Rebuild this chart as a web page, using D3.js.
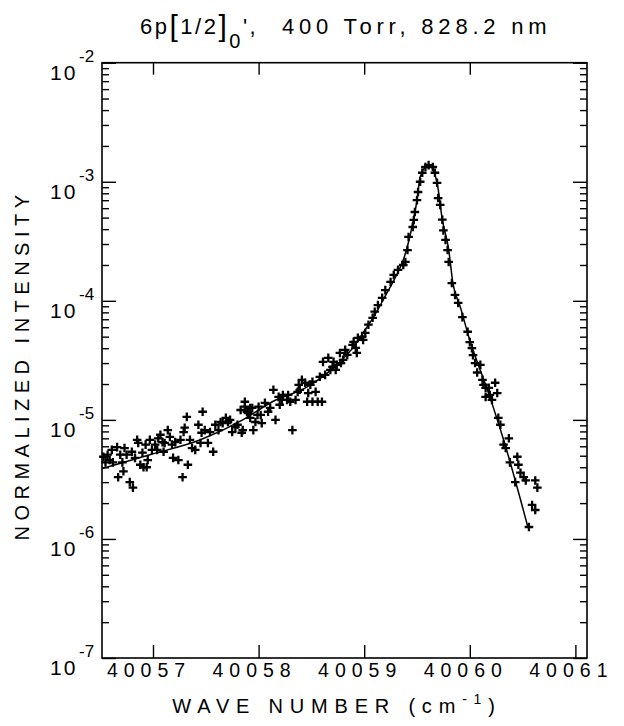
<!DOCTYPE html>
<html>
<head>
<meta charset="utf-8">
<script src="https://cdn.jsdelivr.net/npm/d3@7"></script>
<style>
  body { margin: 0; background: #fff; }
  text { font-family: "Liberation Sans", Arial, sans-serif; fill: #000; }
</style>
</head>
<body>
<svg id="chart" width="624" height="726"></svg>
<script>
'use strict';

// measured points (crosses)
const pointWave = [
  40056.53, 40056.57, 40056.59, 40056.62, 40056.66, 40056.67, 40056.71, 40056.72, 40056.75, 40056.78,
  40056.80, 40056.81, 40056.85, 40056.86, 40056.88, 40056.90, 40056.91, 40056.94, 40056.95, 40056.99,
  40057.02, 40057.04, 40057.07, 40057.09, 40057.11, 40057.14, 40057.16, 40057.19, 40057.21, 40057.24,
  40057.28, 40057.29, 40057.30, 40057.32, 40057.33, 40057.37, 40057.40, 40057.45, 40057.46, 40057.47,
  40057.49, 40057.52, 40057.57, 40057.59, 40057.64, 40057.66, 40057.71, 40057.75, 40057.78, 40057.83,
  40057.84, 40057.87, 40057.90, 40057.94, 40057.95, 40057.99,
  40056.55, 40056.61, 40056.69, 40056.73, 40056.83, 40056.93, 40056.97, 40057.05, 40057.10, 40057.18,
  40057.26, 40057.35, 40057.43, 40057.54, 40057.62, 40057.69, 40057.73, 40057.80, 40057.92, 40058.02,
  40058.20, 40058.28, 40058.38, 40058.49, 40058.71, 40058.82,
  40057.85, 40057.87, 40057.89, 40057.92, 40057.97, 40058.00, 40058.03, 40058.06, 40058.09, 40058.11,
  40058.14, 40058.16, 40058.19, 40058.22, 40058.23, 40058.27, 40058.30, 40058.32, 40058.35, 40058.37,
  40058.39, 40058.41, 40058.44, 40058.46, 40058.47, 40058.51, 40058.51, 40058.54, 40058.56, 40058.58,
  40058.60, 40058.61, 40058.63, 40058.66, 40058.68, 40058.70, 40058.73, 40058.74, 40058.77, 40058.78,
  40058.80, 40058.84, 40058.89, 40058.90, 40058.92, 40058.93, 40058.94, 40058.98, 40058.99, 40059.01,
  40059.04, 40059.08, 40059.10, 40059.13, 40059.17, 40059.20, 40059.25, 40059.28, 40059.32, 40059.37,
  40059.39, 40059.41, 40059.42, 40059.46, 40059.47, 40059.48, 40059.50, 40059.51, 40059.53, 40059.55,
  40059.58, 40059.61, 40059.65, 40059.67,
  40059.69, 40059.70, 40059.72, 40059.74, 40059.75, 40059.77, 40059.79, 40059.80, 40059.83, 40059.86,
  40059.89, 40059.93, 40059.98,
  40060.00, 40060.02, 40060.03, 40060.05, 40060.07, 40060.10, 40060.12, 40060.13, 40060.15, 40060.18,
  40060.24, 40060.26, 40060.15, 40060.19, 40060.21, 40060.27, 40060.29, 40060.37, 40060.32, 40060.34,
  40060.45, 40060.38, 40060.46, 40060.48, 40060.51, 40060.53, 40060.43, 40060.62, 40060.64, 40060.59,
  40060.62, 40060.56
];
const pointIntensity = [
  4.9e-6, 5.1e-6, 4.6e-6, 4.4e-6, 5.9e-6, 3.3e-6, 4.4e-6, 3.7e-6, 5.1e-6, 3.0e-6,
  5.4e-6, 2.7e-6, 6.8e-6, 6.4e-6, 4.2e-6, 5.3e-6, 4.0e-6, 4.0e-6, 4.6e-6, 5.6e-6,
  6.2e-6, 5.6e-6, 7.5e-6, 6.5e-6, 6.4e-6, 8.2e-6, 7.2e-6, 4.8e-6, 6.5e-6, 4.6e-6,
  3.3e-6, 7.9e-6, 8.6e-6, 1.06e-5, 4.2e-6, 5.8e-6, 5.6e-6, 6.4e-6, 7.8e-6, 1.17e-5,
  8.2e-6, 6.4e-6, 5.4e-6, 9.1e-6, 9.6e-6, 9.4e-6, 9.6e-6, 7.9e-6, 8.7e-6, 1.21e-5,
  7.8e-6, 1.29e-5, 1.14e-5, 1.26e-5, 8.2e-6, 1.10e-5,
  4.4e-6, 5.6e-6, 5.1e-6, 5.8e-6, 4.8e-6, 6.2e-6, 6.8e-6, 7.0e-6, 5.4e-6, 6.2e-6,
  6.8e-6, 6.8e-6, 9.1e-6, 7.9e-6, 8.2e-6, 1.04e-5, 1.0e-5, 9.1e-6, 1.04e-5, 1.10e-5,
  1.34e-5, 1.62e-5, 1.97e-5, 1.97e-5, 3.07e-5, 3.87e-5,
  8.2e-6, 1.42e-5, 1.17e-5, 1.26e-5, 9.6e-6, 1.29e-5, 9.4e-6, 1.39e-5, 1.17e-5, 1.26e-5,
  1.79e-5, 1.0e-5, 1.56e-5, 1.47e-5, 1.62e-5, 1.47e-5, 1.42e-5, 8.2e-6, 1.47e-5, 1.72e-5,
  1.79e-5, 2.17e-5, 2.05e-5, 1.42e-5, 1.68e-5, 2.09e-5, 1.42e-5, 1.72e-5, 1.42e-5, 2.3e-5,
  1.42e-5, 3.07e-5, 2.39e-5, 3.32e-5, 2.63e-5, 2.79e-5, 2.63e-5, 2.9e-5, 3.65e-5, 3.0e-5,
  3.19e-5, 3.51e-5, 4.26e-5, 4.52e-5, 4.02e-5, 3.65e-5, 4.88e-5, 4.98e-5, 4.7e-5, 5.37e-5,
  6.3e-5, 7.2e-5, 8.1e-5, 9.2e-5, 1.06e-4, 1.23e-4, 1.44e-4, 1.65e-4, 1.82e-4, 2.0e-4,
  2.12e-4, 2.67e-4, 3.44e-4, 4.17e-4, 4.78e-4, 5.57e-4, 7.0e-4, 8.2e-4, 1.0e-3, 1.19e-3,
  1.33e-3, 1.38e-3, 1.33e-3, 1.19e-3,
  9.8e-4, 7.3e-4, 6.4e-4, 4.8e-4, 3.9e-4, 3.25e-4, 2.67e-4, 2.12e-4, 1.41e-4, 1.12e-4,
  9.6e-5, 7.3e-5, 5.5e-5,
  4.5e-5, 4.0e-5, 3.5e-5, 3.0e-5, 2.5e-5, 2.9e-5, 2.17e-5, 1.97e-5, 1.86e-5, 1.86e-5,
  2.05e-5, 1.68e-5, 1.56e-5, 1.62e-5, 1.47e-5, 1.04e-5, 9.1e-6, 7.0e-6, 6.2e-6, 5.8e-6,
  4.9e-6, 4.4e-6, 4.2e-6, 3.6e-6, 3.3e-6, 3.1e-6, 3.0e-6, 3.1e-6, 2.7e-6, 1.93e-6,
  1.75e-6, 1.26e-6
];

// fitted line shape
const fitWave = [
  40056.52, 40056.97, 40057.45, 40057.85, 40058.13, 40058.46, 40058.77, 40058.90, 40058.99, 40059.10,
  40059.20, 40059.30, 40059.37, 40059.44, 40059.50, 40059.53, 40059.61, 40059.69, 40059.74, 40059.80,
  40059.84, 40059.91, 40059.99, 40060.19, 40060.32, 40060.55
];
const fitIntensity = [
  3.9e-6, 5.1e-6, 6.8e-6, 1.0e-5, 1.42e-5, 1.89e-5, 3.07e-5, 4.1e-5, 5.4e-5, 7.6e-5,
  1.1e-4, 1.6e-4, 2.2e-4, 3.7e-4, 7.0e-4, 1.1e-3, 1.38e-3, 9.8e-4, 4.8e-4, 2.7e-4,
  1.41e-4, 8.9e-5, 5.0e-5, 1.56e-5, 6.8e-6, 1.26e-6
];

const waveTicks = [40057, 40058, 40059, 40060, 40061];
const decadeExponents = [-7, -6, -5, -4, -3, -2];

const margin = { left: 102, right: 587, top: 62.7, bottom: 658 };

const svg = d3.select('#chart');

const x = d3.scaleLinear().domain([40056.517, 40061.11]).range([margin.left, margin.right]);
const y = d3.scaleLog().domain([1e-7, 1e-2]).range([margin.bottom, margin.top]);

const minorValues = [];
decadeExponents.slice(0, -1).forEach(e => {
  for (let m = 2; m <= 9; m++) minorValues.push(m * Math.pow(10, e));
});
const majorValues = decadeExponents.map(e => Math.pow(10, e));

// frame
svg.append('rect')
  .attr('x', margin.left).attr('y', margin.top)
  .attr('width', margin.right - margin.left).attr('height', margin.bottom - margin.top)
  .attr('fill', 'none').attr('stroke', '#000').attr('stroke-width', 1.6);

// axes, ticks pointing inward
const bottomAxis = d3.axisTop(x).tickValues(waveTicks).tickSize(13).tickFormat('');
const topAxis = d3.axisBottom(x).tickValues(waveTicks.slice(0, -1)).tickSize(12).tickFormat('');
svg.append('g').attr('transform', `translate(0,${margin.bottom})`).call(bottomAxis);
svg.append('g').attr('transform', `translate(0,${margin.top})`).call(topAxis);

svg.append('g').attr('transform', `translate(${margin.left},0)`)
  .call(d3.axisRight(y).tickValues(majorValues).tickSize(14).tickFormat(''));
svg.append('g').attr('transform', `translate(${margin.left},0)`)
  .call(d3.axisRight(y).tickValues(minorValues).tickSize(7).tickFormat(''));
svg.append('g').attr('transform', `translate(${margin.right},0)`)
  .call(d3.axisLeft(y).tickValues(majorValues).tickSize(14).tickFormat(''));
svg.append('g').attr('transform', `translate(${margin.right},0)`)
  .call(d3.axisLeft(y).tickValues(minorValues).tickSize(7).tickFormat(''));

svg.selectAll('.domain').remove();
svg.selectAll('.tick line').attr('stroke', '#000').attr('stroke-width', 1.4);

// x tick labels
svg.selectAll('.xlab').data(waveTicks).enter().append('text')
  .attr('class', 'xlab')
  .attr('x', d => x(d) - 4)
  .attr('y', 677)
  .attr('text-anchor', 'middle')
  .style('font-size', '19.5px')
  .style('letter-spacing', '6px')
  .text(d => d);

// y tick labels 10^n
const ylab = svg.selectAll('.ylab').data(decadeExponents).enter().append('g').attr('class', 'ylab');
ylab.append('text')
  .attr('x', 50).attr('y', d => y(Math.pow(10, d)) + 17)
  .style('font-size', '21px').style('letter-spacing', '2px')
  .text('10');
ylab.append('text')
  .attr('x', 79).attr('y', d => y(Math.pow(10, d)) - 1)
  .style('font-size', '17px')
  .text(d => '-' + Math.abs(d));

// fitted line
const line = d3.line()
  .x((d, i) => x(fitWave[i]))
  .y((d, i) => y(fitIntensity[i]))
  .curve(d3.curveMonotoneX);
svg.append('path')
  .datum(fitWave)
  .attr('d', line)
  .attr('fill', 'none')
  .attr('stroke', '#000')
  .attr('stroke-width', 1.5);

// crosses
const s = 4.3;
svg.append('g').selectAll('path.pt').data(pointWave).enter().append('path')
  .attr('class', 'pt')
  .attr('d', (d, i) => {
    const px = x(d), py = y(pointIntensity[i]);
    return `M${px - s},${py}H${px + s}M${px},${py - s}V${py + s}`;
  })
  .attr('stroke', '#000')
  .attr('stroke-width', 2.3);

// title
const title = svg.append('text').attr('x', 140).attr('y', 34).style('font-size', '22px').style('letter-spacing', '2.5px');
title.append('tspan').text('6p');
title.append('tspan').style('font-size', '30px').attr('dy', 2).text('[');
title.append('tspan').style('font-size', '22px').attr('dy', -2).text('1/2');
title.append('tspan').style('font-size', '30px').attr('dy', 2).text(']');
title.append('tspan').style('font-size', '20px').attr('dy', 12).text('0');
title.append('tspan').style('font-size', '22px').attr('dy', -14).text("',");
svg.append('text').attr('x', 282).attr('y', 34)
  .style('font-size', '22px').style('letter-spacing', '4.8px')
  .text('400 Torr,  828.2 nm');

// x axis title
const xt = svg.append('text').attr('x', 337).attr('y', 713).attr('text-anchor', 'middle')
  .style('font-size', '20px').style('letter-spacing', '6.8px');
xt.append('tspan').text('WAVE NUMBER (cm');
xt.append('tspan').style('font-size', '14px').attr('dy', -9).text('-1');
xt.append('tspan').style('font-size', '20px').attr('dy', 9).text(')');

// y axis title
svg.append('text')
  .attr('transform', 'translate(29,365) rotate(-90)')
  .attr('text-anchor', 'middle')
  .style('font-size', '20px').style('letter-spacing', '5.5px')
  .text('NORMALIZED INTENSITY');
</script>
</body>
</html>
